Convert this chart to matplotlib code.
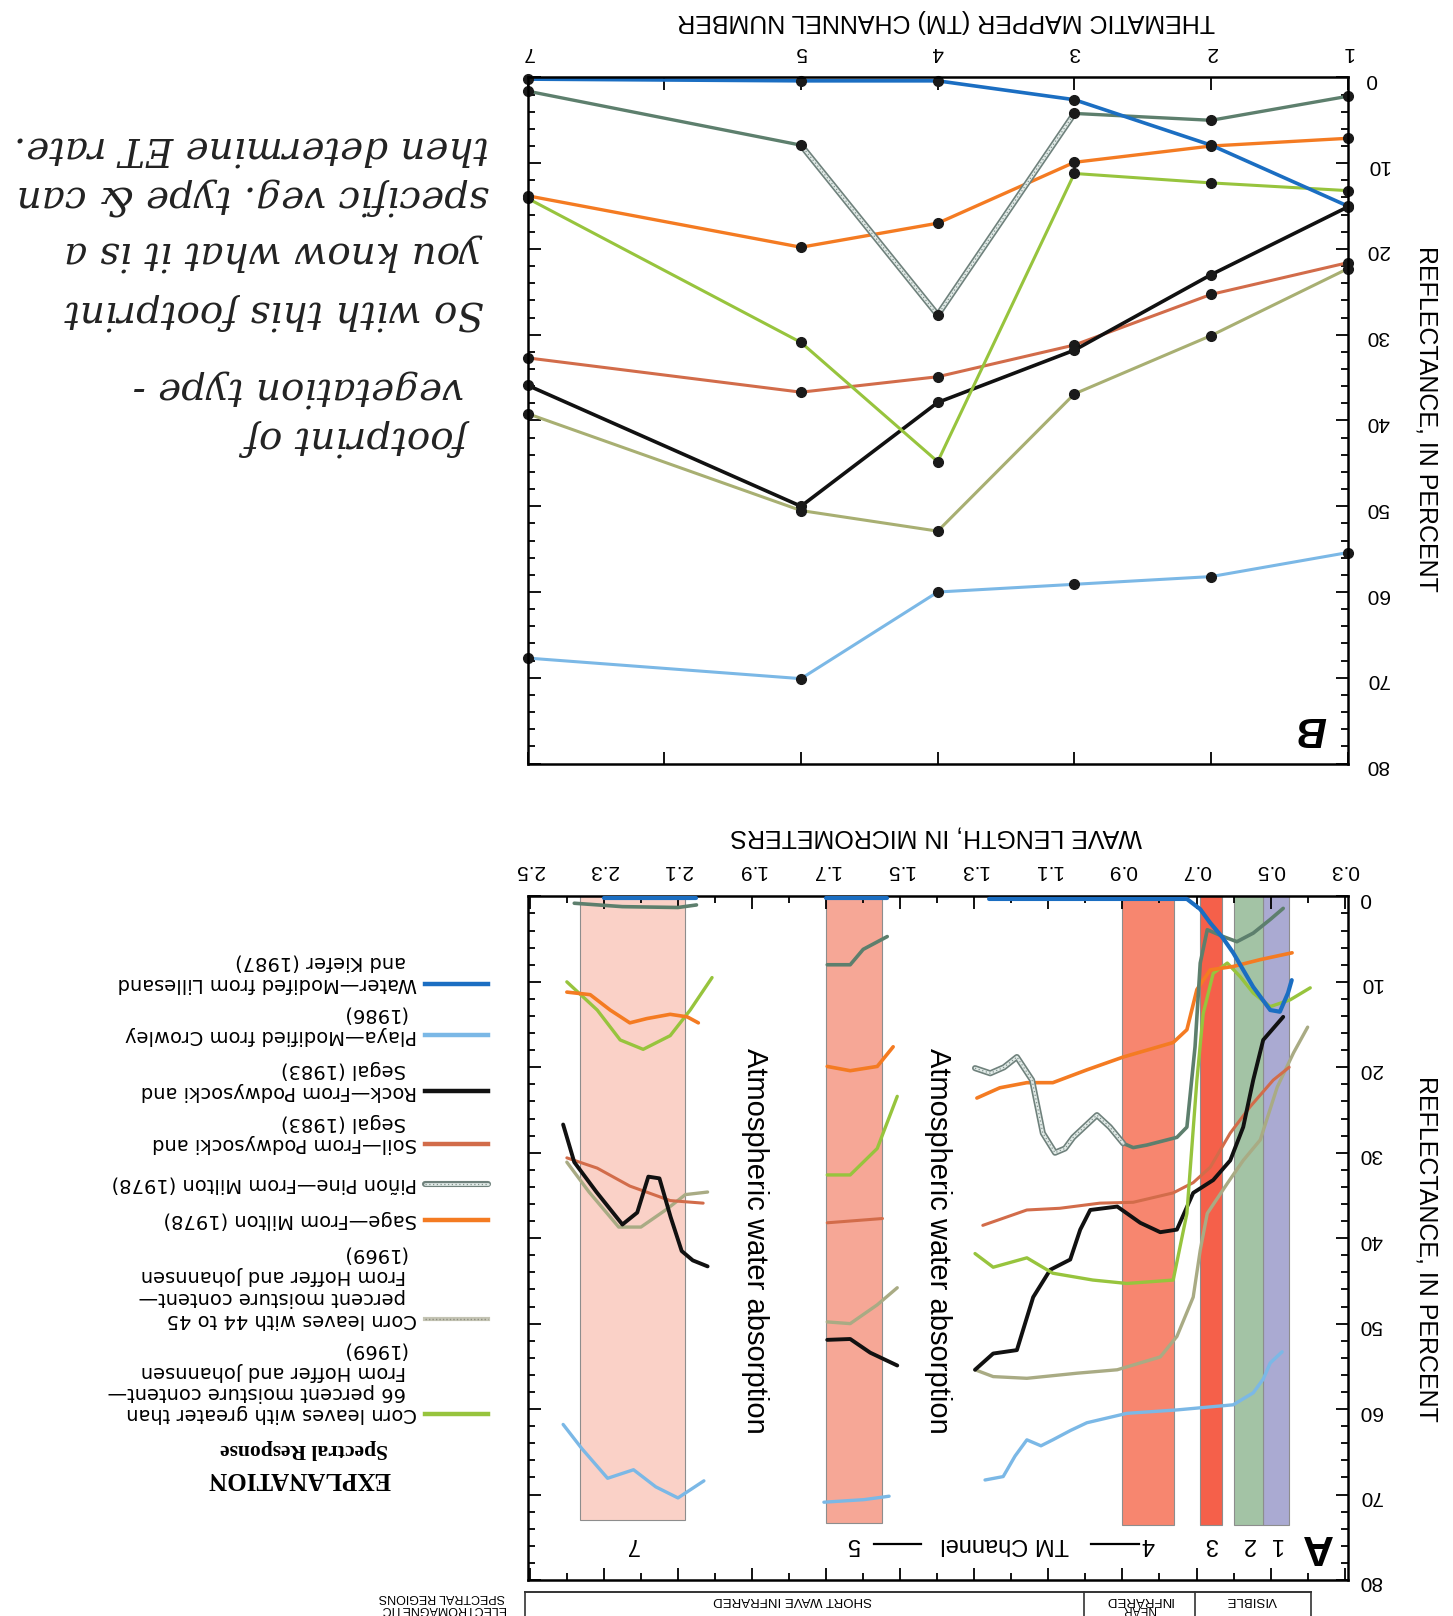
import matplotlib.pyplot as plt
import matplotlib.patheffects as pe

plt.rcParams['font.family'] = ['Liberation Sans', 'DejaVu Sans']

# ---- panel B: reflectance per Thematic Mapper channel ----
channels = [7, 5, 4, 3, 2, 1]
b_water = [0.2, 0.4, 0.4, 2.6, 7.9, 15.0]
b_pinon = [1.6, 7.9, 27.7, 4.2, 5.0, 2.2]
b_sage = [13.8, 19.8, 17.0, 9.9, 8.0, 7.1]
b_corn66 = [14.1, 30.9, 44.8, 11.2, 12.3, 13.2]
b_soil = [32.7, 36.7, 34.9, 31.2, 25.3, 21.6]
b_rock = [35.9, 50.0, 37.9, 31.8, 23.0, 15.1]
b_corn44 = [39.2, 50.5, 52.9, 36.9, 30.1, 22.3]
b_playa = [67.7, 70.1, 60.0, 59.1, 58.2, 55.4]

# ---- panel A: spectral curves (wavelength um, reflectance %) ----
# each material: visible/near-IR part, channel 5 window, channel 7 window
water_a = [
    ([1.26, 1.05, 0.85, 0.726, 0.69, 0.663, 0.63, 0.601, 0.547, 0.501, 0.475, 0.453, 0.443],
     [0.3, 0.3, 0.3, 0.3, 1.5, 3.1, 4.8, 6.6, 10.6, 13.3, 13.5, 11.3, 9.8]),
    ([1.70, 1.535], [0.2, 0.2]),
    ([2.30, 2.05], [0.2, 0.2]),
]
playa_a = [
    ([1.271, 1.222, 1.19, 1.158, 1.12, 1.088, 1.04, 0.996, 0.888, 0.753, 0.601, 0.547, 0.52, 0.501, 0.469],
     [68.3, 67.9, 65.5, 63.6, 64.3, 63.6, 62.5, 61.6, 60.5, 60.1, 59.5, 58.1, 56.5, 54.6, 53.3]),
    ([1.706, 1.598, 1.53], [70.9, 70.6, 70.2]),
    ([2.41, 2.36, 2.29, 2.22, 2.16, 2.10, 2.03], [61.8, 64.6, 68.1, 67.1, 69.1, 70.4, 68.4]),
]
rock_a = [
    ([1.298, 1.249, 1.185, 1.168, 1.141, 1.095, 1.041, 1.014, 0.987, 0.914, 0.852, 0.798, 0.753,
      0.709, 0.655, 0.609, 0.574, 0.547, 0.52, 0.466],
     [55.4, 53.5, 53.1, 50.7, 46.9, 43.7, 42.5, 39.0, 36.7, 36.3, 38.2, 39.3, 39.0,
      34.7, 33.2, 30.9, 27.0, 21.5, 16.8, 14.1]),
    ([1.697, 1.635, 1.581, 1.508], [51.9, 51.8, 53.4, 54.9]),
    ([2.41, 2.38, 2.32, 2.25, 2.21, 2.18, 2.15, 2.12, 2.09, 2.06, 2.02],
     [26.7, 31.1, 34.6, 38.4, 37.0, 32.8, 33.0, 37.5, 41.5, 42.6, 43.3]),
]
soil_a = [
    ([1.277, 1.158, 1.069, 0.961, 0.871, 0.763, 0.709, 0.663, 0.609, 0.555, 0.493, 0.45],
     [38.5, 36.7, 36.5, 35.9, 35.8, 34.7, 33.5, 31.7, 27.7, 24.6, 21.5, 20.0]),
    ([1.697, 1.548], [38.2, 37.7]),
    ([2.40, 2.318, 2.23, 2.121, 2.032], [30.6, 31.8, 33.9, 35.6, 35.9]),
]
pinon_hatch_wl = [1.298, 1.257, 1.22, 1.185, 1.144, 1.115, 1.082, 1.055, 1.033, 0.969, 0.934, 0.898]
pinon_hatch_r = [20.1, 20.7, 20.0, 18.8, 21.5, 27.7, 30.0, 29.5, 28.2, 25.6, 27.0, 28.9]
pinon_a = [
    ([0.898, 0.871, 0.834, 0.753, 0.726, 0.704, 0.69, 0.671, 0.628, 0.591, 0.547, 0.501, 0.466],
     [28.9, 29.4, 29.1, 28.2, 27.0, 17.6, 7.8, 3.9, 4.7, 5.3, 4.3, 2.7, 1.4]),
    ([1.697, 1.635, 1.60, 1.535], [8.0, 8.0, 6.2, 4.7]),
    ([2.38, 2.25, 2.10, 2.05], [0.8, 1.2, 1.3, 1.0]),
]
sage_a = [
    ([1.293, 1.231, 1.158, 1.088, 0.996, 0.898, 0.763, 0.726, 0.699, 0.663, 0.601, 0.528, 0.442],
     [23.6, 22.4, 21.8, 21.8, 20.3, 18.8, 17.1, 15.6, 10.9, 8.6, 8.2, 7.4, 6.6]),
    ([1.697, 1.635, 1.562, 1.519], [19.9, 20.4, 19.9, 17.6]),
    ([2.40, 2.337, 2.283, 2.23, 2.184, 2.121, 2.075, 2.045], [11.2, 11.5, 13.3, 14.8, 14.3, 13.8, 14.1, 14.8]),
]
corn66_a = [
    ([1.298, 1.249, 1.158, 1.088, 0.98, 0.888, 0.763, 0.726, 0.699, 0.682, 0.655, 0.617, 0.582,
      0.547, 0.501, 0.447, 0.393],
     [41.8, 43.4, 42.3, 44.1, 44.9, 45.3, 44.9, 37.1, 21.5, 13.7, 9.0, 7.8, 9.4,
      11.3, 12.9, 12.1, 10.7]),
    ([1.697, 1.635, 1.562, 1.508], [32.6, 32.6, 29.5, 23.4]),
    ([2.40, 2.318, 2.256, 2.194, 2.121, 2.067, 2.008], [10.0, 13.3, 16.8, 17.9, 16.3, 13.3, 9.5]),
]
corn44_a = [
    ([1.298, 1.249, 1.158, 1.022, 0.914, 0.798, 0.753, 0.709, 0.69, 0.671, 0.617, 0.574, 0.528,
      0.482, 0.438, 0.40],
     [55.4, 56.2, 56.4, 55.8, 55.4, 53.9, 51.5, 46.9, 41.4, 37.1, 33.6, 30.9, 28.5,
      22.3, 18.3, 15.3]),
    ([1.697, 1.635, 1.562, 1.508], [49.8, 50.0, 47.8, 45.8]),
    ([2.40, 2.34, 2.26, 2.20, 2.13, 2.08, 2.02], [31.1, 34.6, 38.7, 38.7, 36.6, 34.9, 34.6]),
]

# TM channel bands
band_names = ['1', '2', '3', '4', '5', '7']
band_lo = [0.45, 0.52, 0.63, 0.76, 1.55, 2.08]
band_hi = [0.52, 0.60, 0.69, 0.90, 1.70, 2.365]
band_depth = [73.6, 73.6, 73.6, 73.6, 73.3, 73.0]
band_colors = ['#aaaad2', '#a3c3a5', '#f5604a', '#f7866f', '#f6a796', '#fad1c7']

c_water = '#1b6ec2'
c_playa = '#7bb8e6'
c_rock = '#111111'
c_soil = '#d26c4a'
c_pinon = '#5d7f6d'
c_sage = '#f47b22'
c_corn44 = '#a9ab84'
c_corn66 = '#97c43d'


def hatched(ax, x, y, **kw):
    ax.plot(x, y, color='#e2ebe8', lw=2.0, solid_capstyle='round',
            path_effects=[pe.Stroke(linewidth=4.4, foreground='#6f817c'), pe.Normal()], **kw)
    ax.plot(x, y, color='#7f918c', lw=0.9, ls=(0, (1, 2)), **kw)


def style_axes(ax, xpad, ypad):
    ax.tick_params(which='both', direction='in', top=True, bottom=True, left=True, right=True,
                   labeltop=True, labelbottom=False, labelleft=False, labelright=True,
                   labelsize=15, width=1.3)
    ax.tick_params(which='major', length=9)
    ax.tick_params(which='minor', length=5)
    ax.tick_params(axis='x', labelrotation=180, pad=xpad)
    ax.tick_params(axis='y', labelrotation=180, pad=ypad)
    ax.set_ylim(80, 0)
    ax.set_yticks(range(0, 81, 10))
    ax.set_yticks(range(0, 81, 2), minor=True)
    for s in ax.spines.values():
        s.set_linewidth(1.8)


fig = plt.figure(figsize=(14.53, 16.16), dpi=100)

ov = fig.add_axes([0, 0, 1, 1])
ov.set_xlim(0, 1453)
ov.set_ylim(1616, 0)
ov.axis('off')

# ---------------- panel B ----------------
axB = fig.add_axes([0.3631, 0.5275, 0.5645, 0.4246])
style_axes(axB, 11, 13)
axB.set_xlim(7, 1)
axB.set_xticks([1, 2, 3, 4, 5, 6, 7])
axB.set_xticklabels(['1', '2', '3', '4', '5', '', '7'])

mk = dict(marker='o', ms=7, mfc='#1a1a1a', mec='#1a1a1a', clip_on=False)
axB.plot(channels, b_playa, color=c_playa, lw=2.2, **mk)
axB.plot(channels, b_corn44, color='#a8af72', lw=2.2, **mk)
axB.plot(channels, b_soil, color=c_soil, lw=2.2, **mk)
axB.plot(channels, b_rock, color=c_rock, lw=2.6, **mk)
axB.plot(channels, b_corn66, color=c_corn66, lw=2.2, **mk)
axB.plot(channels, b_sage, color=c_sage, lw=2.4, **mk)
axB.plot(channels[:2], b_pinon[:2], color=c_pinon, lw=2.4)
hatched(axB, channels[1:4], b_pinon[1:4])
axB.plot(channels[3:], b_pinon[3:], color=c_pinon, lw=2.4)
axB.plot(channels, b_pinon, ls='none', **mk)
axB.plot(channels, b_water, color=c_water, lw=2.6, **mk)
axB.text(1.27, 75.8, 'B', rotation=180, fontsize=30, fontweight='bold', fontstyle='italic',
         ha='center', va='center')

# ---------------- panel A ----------------
axA = fig.add_axes([0.3631, 0.0223, 0.5645, 0.4230])
style_axes(axA, 12, 8)
axA.set_xlim(2.506, 0.2916)
axA.set_xticks([0.3 + 0.2 * i for i in range(12)])
axA.set_xticklabels(['%.1f' % (0.3 + 0.2 * i) for i in range(12)])
axA.set_xticks([0.4 + 0.2 * i for i in range(11)], minor=True)

for lo, hi, d, c in zip(band_lo, band_hi, band_depth, band_colors):
    axA.bar(lo, d, width=hi - lo, bottom=0, align='edge', color=c, edgecolor='#8d8d8d', lw=0.8, zorder=1)
for lo, hi, d, name in zip(band_lo, band_hi, band_depth, band_names):
    axA.text((lo + hi) / 2, 75.8, name, rotation=180, fontsize=17, ha='center', va='center')
axA.text(1.218, 75.8, 'TM Channel', rotation=180, fontsize=17, ha='center', va='center')
axA.plot([0.855, 0.985], [75.8, 75.8], color='k', lw=1.6)
axA.plot([1.445, 1.57], [75.8, 75.8], color='k', lw=1.6)
axA.text(0.375, 76.0, 'A', rotation=180, fontsize=31, fontweight='bold', ha='center', va='center')
for wl in [1.891, 1.398]:
    axA.text(wl, 40.3, 'Atmospheric water absorption', rotation=-90, fontsize=21,
             ha='center', va='center')

for segs, c, w in [(playa_a, c_playa, 2.4), (corn44_a, c_corn44, 2.4), (soil_a, c_soil, 2.2),
                   (rock_a, c_rock, 2.8), (corn66_a, c_corn66, 2.4), (sage_a, c_sage, 2.6),
                   (pinon_a, c_pinon, 2.6), (water_a, c_water, 3.0)]:
    for wl, r in segs:
        axA.plot(wl, r, color=c, lw=w, zorder=3, solid_capstyle='round')
hatched(axA, pinon_hatch_wl, pinon_hatch_r, zorder=3)

# ---------------- axis titles ----------------
narrow = ['Liberation Sans Narrow', 'Liberation Sans']
ov.text(946, 21, 'THEMATIC MAPPER (TM) CHANNEL NUMBER', rotation=180, fontsize=18,
        family=narrow, ha='center', va='center')
ov.text(936, 837, 'WAVE LENGTH, IN MICROMETERS', rotation=180, fontsize=18,
        family=narrow, ha='center', va='center')
ov.text(1427, 419, 'REFLECTANCE, IN PERCENT', rotation=-90, fontsize=18,
        family=narrow, ha='center', va='center')
ov.text(1426, 1249, 'REFLECTANCE, IN PERCENT', rotation=-90, fontsize=18,
        family=narrow, ha='center', va='center')

# ---------------- spectral regions bar ----------------
for x in [524.5, 1084, 1195.4, 1310.8]:
    ov.plot([x, x], [1592, 1620], color='#333333', lw=1.2)
ov.plot([524.5, 1310.8], [1592, 1592], color='#333333', lw=1.4)
ov.text(793, 1600, 'SHORT WAVE INFRARED', rotation=180, fontsize=9.5, ha='center', va='center')
ov.text(1139, 1600, 'INFRARED', rotation=180, fontsize=9.5, ha='center', va='center')
ov.text(1139, 1609.5, 'NEAR', rotation=180, fontsize=8.5, ha='center', va='center')
ov.text(1252, 1600, 'VISIBLE', rotation=180, fontsize=9.5, ha='center', va='center')
ov.text(505, 1597, 'SPECTRAL REGIONS', rotation=180, fontsize=9, ha='right', va='center')
ov.text(505, 1608.5, 'ELECTROMAGNETIC', rotation=180, fontsize=9, ha='right', va='center')

# ---------------- explanation ----------------
legend_rows = [
    (984, c_water, 'solid', ['Water\u2014Modifed from Lillesand', 'and Kiefer (1987)']),
    (1035, c_playa, 'solid', ['Playa\u2014Modified from Crowley', '(1986)']),
    (1091, c_rock, 'solid', ['Rock\u2014From Podwysocki and', 'Segal (1983)']),
    (1144, c_soil, 'solid', ['Soil\u2014From Podwysocki and', 'Segal (1983)']),
    (1184, c_pinon, 'hatch', ['Pi\u00f1on Pine\u2014From Milton (1978)']),
    (1220, c_sage, 'solid', ['Sage\u2014From Milton (1978)']),
    (1319, '#c4c4b4', 'dots', ['Corn leaves with 44 to 45', 'percent moisture content\u2014',
                               'From Hoffer and Johannsen', '(1969)']),
    (1414, c_corn66, 'solid', ['Corn leaves with greater than', '66 percent moisture content\u2014',
                               'From Hoffer and Johannsen', '(1969)']),
]
for y, c, kind, lines in legend_rows:
    xs = [425, 488]
    if kind == 'hatch':
        hatched(ov, xs, [y, y])
    elif kind == 'dots':
        ov.plot(xs, [y, y], color=c, lw=3)
        ov.plot(xs, [y, y], color='#8f8f80', lw=1, ls=(0, (1, 1.5)))
    else:
        ov.plot(xs, [y, y], color=c, lw=3.2)
    for i, t in enumerate(lines):
        ov.text(417 if i == 0 else 406, y - 21.5 * i, t, rotation=180, fontsize=14,
                family='DejaVu Sans', ha='right', va='center')

serif = ['Liberation Serif', 'DejaVu Serif']
ov.text(304, 1449, 'Spectral Response', rotation=180, fontsize=15.5, fontweight='bold',
        family=serif, ha='center', va='center')
ov.text(299, 1479, 'EXPLANATION', rotation=180, fontsize=18, fontweight='bold',
        family=serif, ha='center', va='center')

# ---------------- handwritten note ----------------
note = [
    (472, 438, 'footprint of'),
    (464, 388, 'vegetation type -'),
    (484, 312, 'So with this footprint'),
    (484, 252, 'you know what it is a'),
    (489, 196, 'specific veg. type & can'),
    (489, 147, 'then determine ET rate.'),
]
for x, y, t in note:
    ov.text(x, y, t, rotation=180, fontsize=28, fontstyle='italic', family='DejaVu Serif',
            color='#222222', ha='right', va='center')

fig.savefig('out.png', dpi=100)
